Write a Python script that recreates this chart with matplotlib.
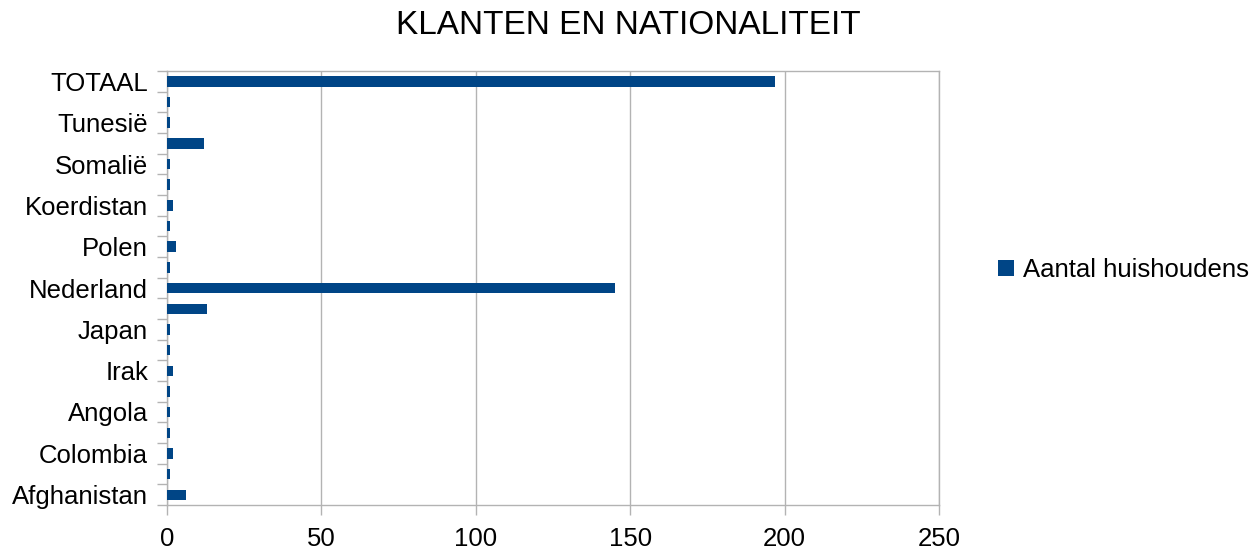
import matplotlib
matplotlib.use("Agg")
import matplotlib.pyplot as plt
import numpy as np

# Categories bottom-to-top; only every other label is shown in the reference
categories = ["Afghanistan", "", "Colombia", "", "Angola", "", "Irak", "", "Japan", "",
              "Nederland", "", "Polen", "", "Koerdistan", "", "Somalië", "", "Tunesië", "", "TOTAAL"]
values = [6, 1, 2, 1, 1, 1, 2, 1, 1, 13,
          145, 1, 3, 1, 2, 1, 1, 12, 1, 1, 197]
series_name = "Aantal huishoudens"
title = "KLANTEN EN NATIONALITEIT"
xticks = [0, 50, 100, 150, 200, 250]

plt.rcParams['font.family'] = ['Liberation Sans', 'DejaVu Sans']

fig = plt.figure(figsize=(12.57, 5.52), dpi=100)
ax = fig.add_axes([167/1257, 1-505/552, (939-167)/1257, (505-71)/552])

BLUE = "#004586"
GRAY = "#b3b3b3"

y = np.arange(len(categories))
ax.barh(y, values, height=0.5, color=BLUE, label=series_name, zorder=3)

ax.set_xlim(0, 250)
ax.set_ylim(-0.5, len(categories) - 0.5)
ax.set_xticks(xticks)
ax.set_xticklabels([str(t) for t in xticks], fontsize=18.5)
ax.grid(axis='x', color=GRAY, linewidth=1, zorder=0)

# labels every other category, tick marks at category boundaries
lab_idx = [i for i, c in enumerate(categories) if c]
ax.set_yticks(lab_idx)
ax.set_yticklabels([categories[i] for i in lab_idx], fontsize=18.5)
ax.tick_params(axis='y', which='major', length=0, pad=13.5)
ax.set_yticks(np.arange(-0.5, len(categories), 1.0), minor=True)
ax.tick_params(axis='y', which='minor', length=7, color=GRAY, width=1, direction='out')
ax.tick_params(axis='x', which='major', length=7, color=GRAY, width=1, pad=9)

for s in ax.spines.values():
    s.set_color(GRAY)
    s.set_linewidth(1)

fig.text(628/1257, 1-25/552, title, ha='center', va='center', fontsize=24)

handles, labels = ax.get_legend_handles_labels()
fig.legend(handles, labels, loc='center left', bbox_to_anchor=(975/1257, 1-270/552),
           frameon=False, fontsize=18.5, handlelength=0.6, handleheight=0.6,
           handletextpad=0.35)

fig.savefig("out.png", dpi=100)
